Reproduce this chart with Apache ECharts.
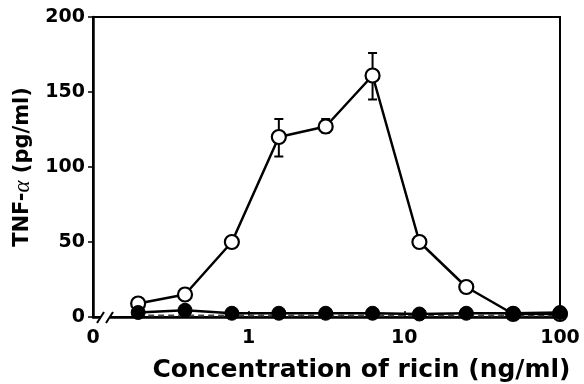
<!DOCTYPE html>
<html><head><meta charset="utf-8">
<script src="https://cdn.jsdelivr.net/npm/echarts@6/dist/echarts.min.js"></script>
<style>html,body{margin:0;padding:0;background:#fff;overflow:hidden}#c{width:584px;height:384px}</style>
</head><body><div id="c"></div>
<script>
var concentrations = [0.195, 0.39, 0.78, 1.5625, 3.125, 6.25, 12.5, 25, 50, 100];
var openValues   = [9, 15, 50, 120, 127, 161, 50, 20, 2, 2];
var filledValues = [3, 4.5, 2.5, 2.5, 2.5, 2.5, 2, 2.5, 2.5, 3];
var dashedValues = [1, 1, 1, 1, 1, 1, 1, 1, 1, 1];
var errLow  = [null, null, null, 107, 123, 145, null, null, null, null];
var errHigh = [null, null, null, 132, 132, 176, null, null, null, null];
var yTicks = [0, 50, 100, 150, 200];
var xTickLabels = {0.1: '0', 1: '1', 10: '10', 100: '100'};

var FONT = 'DejaVu Sans';
function pairs(vals){ return concentrations.map(function(c,i){ return [c, vals[i]]; }); }
var errData = [];
concentrations.forEach(function(c,i){ if (errLow[i] != null) errData.push([c, errLow[i], errHigh[i]]); });

var chart = echarts.init(document.getElementById('c'));
chart.setOption({
  animation: false,
  backgroundColor: '#fff',
  grid: { left: 93, right: 24, top: 17, bottom: 67, containLabel: false, outerBoundsMode: 'none',
    show: true, borderColor: '#000', borderWidth: 2, backgroundColor: 'transparent' },
  xAxis: {
    type: 'log', logBase: 10, min: 0.1, max: 100,
    axisLine: { lineStyle: { color: '#000', width: 2.5 } },
    axisTick: { inside: true, length: 6, lineStyle: { color: '#000', width: 1.5 } },
    minorTick: { show: false },
    splitLine: { show: false },
    axisLabel: { color: '#000', fontFamily: FONT, fontWeight: 'bold', fontSize: 19, margin: 12,
      formatter: function(v){ return v < 0.5 ? '0' : String(Math.round(v)); } },
    name: 'Concentration of ricin (ng/ml)', nameLocation: 'middle', nameGap: 41,
    nameTextStyle: { color: '#000', fontFamily: FONT, fontWeight: 'bold', fontSize: 25, padding: [0, 0, 0, 70] }
  },
  yAxis: {
    type: 'value', min: 0, max: 200, interval: 50,
    axisLine: { show: true, lineStyle: { color: '#000', width: 2.5 } },
    axisTick: { show: true, length: 5, lineStyle: { color: '#000', width: 1.5 } },
    splitLine: { show: false },
    axisLabel: { color: '#000', fontFamily: FONT, fontWeight: 'bold', fontSize: 19, margin: 8 },
    name: '{a|TNF-}{b|α}{a| (pg/ml)}', nameLocation: 'middle', nameGap: 56, nameRotate: 90,
    nameTextStyle: { rich: {
      a: { color: '#000', fontFamily: FONT, fontWeight: 'bold', fontSize: 21 },
      b: { color: '#000', fontFamily: 'Liberation Serif', fontStyle: 'italic', fontSize: 23 }
    } }
  },
  series: [{
    type: 'line', data: pairs(dashedValues), symbol: 'none', z: 2,
    lineStyle: { color: '#444', width: 2, type: [6, 4] }
  }, {
    type: 'line', data: pairs(openValues), symbol: 'circle', symbolSize: 14, z: 4,
    lineStyle: { color: '#000', width: 2.5 },
    itemStyle: { color: '#fff', borderColor: '#000', borderWidth: 2.2 }
  }, {
    type: 'custom', data: errData, z: 3,
    renderItem: function(params, api){
      var c = api.value(0);
      var lo = api.coord([c, api.value(1)]);
      var hi = api.coord([c, api.value(2)]);
      var w = 4.5;
      var st = { stroke: '#000', lineWidth: 2 };
      return { type: 'group', children: [
        { type: 'line', shape: { x1: lo[0], y1: lo[1], x2: hi[0], y2: hi[1] }, style: st },
        { type: 'line', shape: { x1: lo[0]-w, y1: lo[1], x2: lo[0]+w, y2: lo[1] }, style: st },
        { type: 'line', shape: { x1: hi[0]-w, y1: hi[1], x2: hi[0]+w, y2: hi[1] }, style: st }
      ]};
    }
  }, {
    type: 'line', data: pairs(filledValues), symbol: 'circle', symbolSize: 14, z: 5,
    lineStyle: { color: '#000', width: 2.5 },
    itemStyle: { color: '#000', borderColor: '#000', borderWidth: 1 }
  }],
  graphic: [
    { type: 'rect', shape: { x: 101, y: 313, width: 9, height: 8 }, style: { fill: '#fff' }, z: 100 },
    { type: 'line', shape: { x1: 97, y1: 323, x2: 104, y2: 312 }, style: { stroke: '#000', lineWidth: 2 }, z: 101 },
    { type: 'line', shape: { x1: 106, y1: 323, x2: 113, y2: 312 }, style: { stroke: '#000', lineWidth: 2 }, z: 101 }
  ]
});
</script></body></html>
